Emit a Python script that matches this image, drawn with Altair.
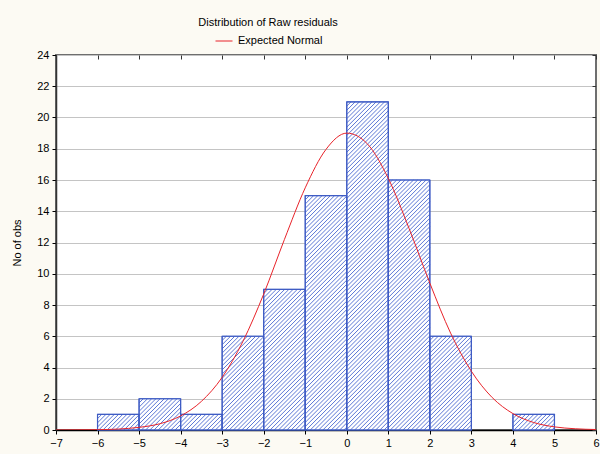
import altair as alt
import numpy as np
import pandas as pd

# ---- data ----
bin_start = [-6, -5, -4, -3, -2, -1, 0, 1, 2, 3, 4]
bin_end = [-5, -4, -3, -2, -1, 0, 1, 2, 3, 4, 5]
counts = [1, 2, 1, 6, 9, 15, 21, 16, 6, 0, 1]

curve_x = [-7, -6.5, -6, -5.5, -5, -4.5, -4, -3.5, -3, -2.5, -2, -1.5, -1, -0.5,
           0, 0.5, 1, 1.5, 2, 2.5, 3, 3.5, 4, 4.5, 5, 5.5, 6]
curve_y = [0.00, 0.01, 0.02, 0.06, 0.17, 0.40, 0.90, 1.83, 3.37, 5.67, 8.70, 12.2, 15.5, 17.96,
           19.0, 18.3, 16.1, 12.9, 9.4, 6.2, 3.76, 2.08, 1.05, 0.48, 0.20, 0.08, 0.03]

x_ticks = list(range(-7, 7))
y_ticks = list(range(0, 25, 2))

FONT = "Liberation Sans"
W, H = 540, 375
XMIN, XMAX, YMAX = -7, 6, 24
BLUE = "#3F5CC4"
HATCH = "#4A68D0"
RED = "#E8232A"

bars = pd.DataFrame({"x0": bin_start, "x1": bin_end, "n": counts})
bars = bars[bars["n"] > 0]

# hatch texture for the bars (45 degree lines, clipped to each bar)
sx = W / (XMAX - XMIN)
sy = H / YMAX
step = 4.2
segs = []
for x0, n in zip(bars["x0"], bars["n"]):
    w = sx
    h = n * sy
    for s in np.arange(-h, w, step):
        xa = max(s, 0.0)
        xb = min(s + h, w)
        if xb <= xa:
            continue
        segs.append({"hx": x0 + xa / sx, "hy": (xa - s) / sy,
                     "hx2": x0 + xb / sx, "hy2": (xb - s) / sy})
hatch = pd.DataFrame(segs)

curve = pd.DataFrame({"x": curve_x, "y": curve_y, "series": "Expected Normal"})

xscale = alt.Scale(domain=[XMIN, XMAX], nice=False, zero=False)
yscale = alt.Scale(domain=[0, YMAX], nice=False)

base_bars = alt.Chart(bars).mark_rect(fill="white", stroke=BLUE, strokeWidth=1).encode(
    x=alt.X("x0:Q", scale=xscale,
            axis=alt.Axis(values=x_ticks, title=None, grid=False, labelFontSize=11,
                          labelFont=FONT, labelColor="black", tickColor="black",
                          domainColor="black", domainWidth=1.5, tickSize=4,
                          labelPadding=3, labelFlush=False)),
    x2="x1:Q",
    y=alt.Y("n:Q", scale=yscale,
            axis=alt.Axis(values=y_ticks, title="No of obs", grid=True, gridColor="#C4C4C4",
                          gridWidth=1, labelFontSize=11, labelFont=FONT, labelColor="black",
                          tickColor="black", domainColor="#333333", domainWidth=1.5,
                          tickSize=4, labelPadding=3, titleFont=FONT, titleFontSize=11,
                          titleFontWeight="normal", titleColor="black", titlePadding=14)),
    y2=alt.datum(0),
)

hatch_layer = alt.Chart(hatch).mark_rule(color=HATCH, strokeWidth=0.9).encode(
    x=alt.X("hx:Q", scale=xscale, axis=None),
    y=alt.Y("hy:Q", scale=yscale, axis=None),
    x2="hx2:Q",
    y2="hy2:Q",
)

outline = alt.Chart(bars).mark_rect(fill=None, stroke=BLUE, strokeWidth=1.2).encode(
    x=alt.X("x0:Q", scale=xscale, axis=None),
    x2="x1:Q",
    y=alt.Y("n:Q", scale=yscale, axis=None),
    y2=alt.datum(0),
)

line = alt.Chart(curve).mark_line(strokeWidth=1, interpolate="monotone", clip=True).encode(
    x=alt.X("x:Q", scale=xscale,
            axis=alt.Axis(values=x_ticks, orient="bottom", offset=-H, labels=False,
                          domain=False, grid=False, title=None, tickColor="#333333",
                          tickSize=4)),
    y=alt.Y("y:Q", scale=yscale,
            axis=alt.Axis(values=y_ticks, orient="left", offset=-W, labels=False,
                          domain=False, grid=False, title=None, tickColor="#333333",
                          tickSize=4)),
    color=alt.Color("series:N",
                    scale=alt.Scale(domain=["Expected Normal"], range=[RED]),
                    legend=alt.Legend(title=None, orient="none", legendX=159, legendY=-23,
                                      symbolType="stroke", symbolSize=289,
                                      symbolStrokeWidth=1, labelFontSize=11,
                                      labelFont=FONT, labelColor="black", padding=0,
                                      labelOffset=5)),
)

chart = alt.layer(base_bars, hatch_layer, outline, line).resolve_axis(
    x="independent", y="independent"
).properties(
    width=W,
    height=H,
    padding={"left": 56, "top": 55, "right": 4, "bottom": 24},
    autosize="none",
    background="#FCFAF3",
    title=alt.TitleParams("Distribution of Raw residuals", anchor="middle", dx=-58, dy=12,
                          fontSize=11, font=FONT, fontWeight="normal", color="black",
                          baseline="bottom", offset=5),
).configure_view(
    fill="white", stroke="#6E6E6E", strokeWidth=2
)

chart.save("out.html", embed_options={"renderer": "svg", "actions": False})
